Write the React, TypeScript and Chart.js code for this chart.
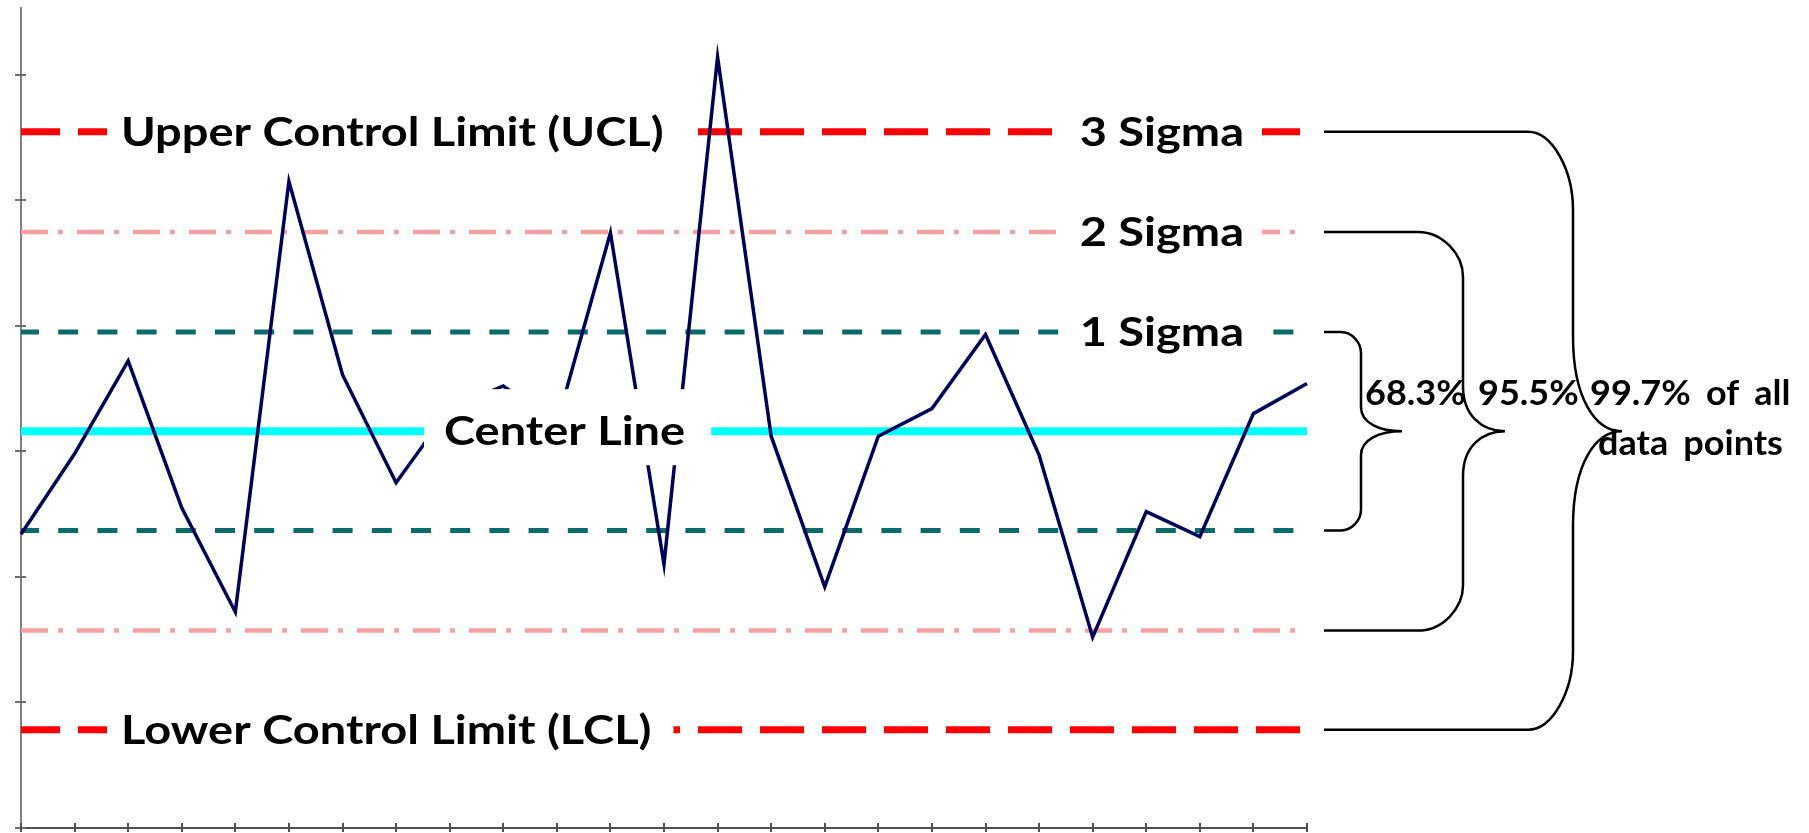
import React, { useEffect, useRef } from "react";
import { Chart, registerables } from "chart.js";

Chart.register(...registerables);

// ---------- data ----------
const categories = [
  "1", "2", "3", "4", "5", "6", "7", "8", "9", "10", "11", "12", "13",
  "14", "15", "16", "17", "18", "19", "20", "21", "22", "23", "24", "25",
];
const observations = [
  2.34, 2.98, 3.72, 2.55, 1.72, 5.15, 3.61, 2.75, 3.34, 3.52, 3.22, 4.74, 2.1,
  6.14, 3.12, 1.92, 3.12, 3.34, 3.93, 2.97, 1.52, 2.52, 2.32, 3.3, 3.54,
];
const centerLevel = 3.16;
const uclLevel = 5.545;
const plus2SigmaLevel = 4.747;
const plus1SigmaLevel = 3.95;
const minus1SigmaLevel = 2.37;
const minus2SigmaLevel = 1.572;
const lclLevel = 0.782;
const yTickValues = [0, 1, 2, 3, 4, 5, 6];
const yAxisMax = 6.53;

const lineLabels = [
  "Upper Control Limit (UCL)",
  "3 Sigma",
  "2 Sigma",
  "1 Sigma",
  "Center Line",
  "Lower Control Limit (LCL)",
];
const braceLabels = ["68.3%", "95.5%", "99.7% of all", "data points"];

// ---------- styles ----------
const LABEL_FONT = "bold 40px Lato";
const LABEL_STRETCH = 1.175;
const BRACE_FONT = "bold 34px Lato";
const BRACE_STRETCH = 1.06;
const BRACE_WORD_SPACING = "6px";

const flat = (v: number) => categories.map(() => v);

const annotationPlugin = {
  id: "controlAnnotations",
  afterDatasetsDraw(chart: any) {
    const { ctx, chartArea, scales } = chart;
    const ys = scales.y;
    const xs = scales.x;
    const L = chartArea.left;
    const R = chartArea.right;

    ctx.save();
    // axis tick marks (crossing the axis lines)
    ctx.strokeStyle = "#6e6e6e";
    ctx.lineWidth = 2;
    yTickValues.forEach((v) => {
      const py = Math.round(ys.getPixelForValue(v));
      ctx.beginPath();
      ctx.moveTo(L - 6, py);
      ctx.lineTo(L + 5, py);
      ctx.stroke();
    });
    ctx.strokeStyle = "#505050";
    categories.forEach((_c, i) => {
      const px = Math.round(xs.getPixelForValue(i));
      ctx.beginPath();
      ctx.moveTo(px, chartArea.bottom - 5);
      ctx.lineTo(px, chartArea.bottom + 4);
      ctx.stroke();
    });

    const stretchText = (text: string, x: number, y: number, sx: number) => {
      ctx.save();
      ctx.translate(x, y);
      ctx.scale(sx, 1);
      ctx.fillText(text, 0, 0);
      ctx.restore();
    };

    // label boxes (white) + text
    ctx.font = LABEL_FONT;
    ctx.textBaseline = "alphabetic";
    ctx.textAlign = "left";
    const drawLabel = (
      text: string,
      level: number,
      anchorX: number,
      align: "left" | "right",
      padL: number,
      padR: number,
      boxUp: number,
      boxDown: number
    ) => {
      const y = ys.getPixelForValue(level);
      const w = ctx.measureText(text).width * LABEL_STRETCH;
      const left = align === "left" ? anchorX : anchorX - w;
      ctx.fillStyle = "#ffffff";
      ctx.fillRect(left - padL, y - boxUp, w + padL + padR, boxUp + boxDown);
      ctx.fillStyle = "#000000";
      stretchText(text, left, y + 14, LABEL_STRETCH);
    };
    drawLabel(lineLabels[0], uclLevel, L + 100, "left", 14, 22, 15, 15);
    drawLabel(lineLabels[1], uclLevel, L + 1223, "right", 20, 18, 15, 15);
    drawLabel(lineLabels[2], plus2SigmaLevel, L + 1223, "right", 20, 18, 15, 15);
    drawLabel(lineLabels[3], plus1SigmaLevel, L + 1223, "right", 20, 18, 15, 15);
    drawLabel(lineLabels[4], centerLevel, L + 423, "left", 20, 26, 42, 34);
    drawLabel(lineLabels[5], lclLevel, L + 100, "left", 14, 22, 15, 15);

    // braces
    ctx.strokeStyle = "#000000";
    ctx.lineWidth = 2.5;
    const yc = ys.getPixelForValue(centerLevel);
    const brace = (
      yTop: number,
      yBot: number,
      x0: number,
      xV: number,
      xTip: number,
      rx: number,
      ry: number,
      rTip: number
    ) => {
      ctx.beginPath();
      ctx.moveTo(x0, yTop);
      ctx.lineTo(xV - rx, yTop);
      ctx.bezierCurveTo(xV - rx * 0.45, yTop, xV, yTop + ry * 0.5, xV, yTop + ry);
      ctx.lineTo(xV, yc - rTip);
      ctx.bezierCurveTo(xV, yc - rTip * 0.35, xTip - (xTip - xV) * 0.55, yc, xTip, yc);
      ctx.moveTo(xTip, yc);
      ctx.bezierCurveTo(xTip - (xTip - xV) * 0.55, yc, xV, yc + rTip * 0.35, xV, yc + rTip);
      ctx.lineTo(xV, yBot - ry);
      ctx.bezierCurveTo(xV, yBot - ry * 0.5, xV - rx * 0.45, yBot, xV - rx, yBot);
      ctx.lineTo(x0, yBot);
      ctx.stroke();
    };
    brace(ys.getPixelForValue(plus1SigmaLevel), ys.getPixelForValue(minus1SigmaLevel), R + 17, R + 54, R + 95, 20, 21, 24);
    brace(ys.getPixelForValue(plus2SigmaLevel), ys.getPixelForValue(minus2SigmaLevel), R + 17, R + 156, R + 198, 45, 45, 45);
    brace(ys.getPixelForValue(uclLevel), ys.getPixelForValue(lclLevel), R + 17, R + 266, R + 315, 45, 78, 95);

    ctx.font = BRACE_FONT;
    try {
      (ctx as any).wordSpacing = BRACE_WORD_SPACING;
    } catch (e) {
      /* ignore */
    }
    ctx.fillStyle = "#000000";
    ctx.textAlign = "left";
    stretchText(braceLabels[0], R + 58, yc - 26, BRACE_STRETCH);
    stretchText(braceLabels[1], R + 171, yc - 26, BRACE_STRETCH);
    stretchText(braceLabels[2], R + 283, yc - 26, BRACE_STRETCH);
    stretchText(braceLabels[3], R + 291, yc + 24, BRACE_STRETCH);
    ctx.restore();
  },
};

export default function App() {
  const canvasRef = useRef<HTMLCanvasElement | null>(null);

  useEffect(() => {
    document.body.style.margin = "0";
    const canvas = canvasRef.current;
    if (!canvas) return;
    const dashed = (label: string, level: number, color: string, width: number, dash: number[], offset: number) => ({
      label,
      data: flat(level),
      borderColor: color,
      borderWidth: width,
      borderDash: dash,
      borderDashOffset: offset,
      borderCapStyle: "butt" as const,
      pointRadius: 0,
    });
    const chart = new Chart(canvas, {
      type: "line",
      data: {
        labels: categories,
        datasets: [
          {
            label: "Observations",
            data: observations,
            borderColor: "#00005c",
            borderWidth: 3.5,
            pointRadius: 0,
            tension: 0,
            fill: false,
          },
          {
            label: "Center Line",
            data: flat(centerLevel),
            borderColor: "#00ffff",
            borderWidth: 8,
            pointRadius: 0,
          },
          dashed("+1 Sigma", plus1SigmaLevel, "#0a6b6b", 5, [20, 19.2], 2),
          dashed("-1 Sigma", minus1SigmaLevel, "#0a6b6b", 5, [20, 19.2], 2),
          dashed("+2 Sigma", plus2SigmaLevel, "#f7a0a0", 4.5, [27, 10, 5, 14], 0),
          dashed("-2 Sigma", minus2SigmaLevel, "#f7a0a0", 4.5, [27, 10, 5, 14], 0),
          dashed("UCL", uclLevel, "#ff0000", 7, [44, 18], 5),
          dashed("LCL", lclLevel, "#ff0000", 7, [44, 18], 5),
        ],
      },
      options: {
        responsive: false,
        animation: false,
        devicePixelRatio: 1,
        layout: { padding: { top: 8, right: 502, left: 0, bottom: 0 } },
        plugins: {
          legend: { display: false },
          tooltip: { enabled: false },
          title: { display: false },
        },
        scales: {
          x: {
            type: "category",
            offset: false,
            grid: { display: false },
            border: { display: true, color: "#505050", width: 2 },
            ticks: { display: false },
            afterFit: (s: any) => {
              s.height = 5;
            },
          },
          y: {
            type: "linear",
            min: 0,
            max: yAxisMax,
            grid: { display: false },
            border: { display: true, color: "#808080", width: 2 },
            ticks: { display: false, stepSize: 1 },
            afterFit: (s: any) => {
              s.width = 21;
            },
          },
        },
      },
      plugins: [annotationPlugin],
    });
    return () => chart.destroy();
  }, []);

  return (
    <div style={{ width: 1809, height: 833, background: "#ffffff" }}>
      <canvas ref={canvasRef} width={1809} height={833} style={{ display: "block" }} />
    </div>
  );
}
